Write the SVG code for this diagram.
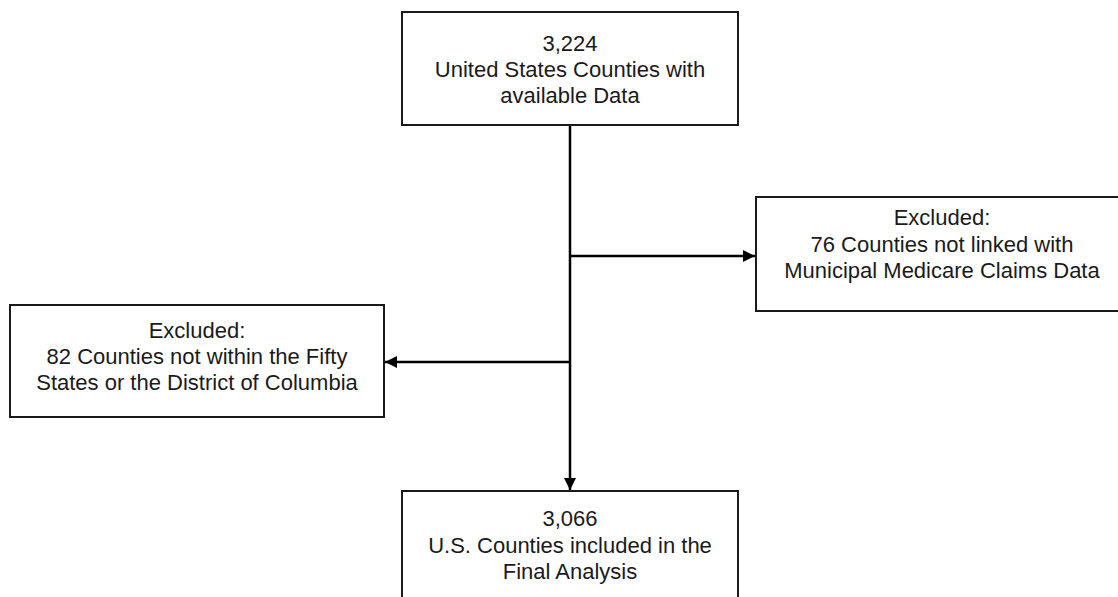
<svg xmlns="http://www.w3.org/2000/svg" width="1118" height="597" viewBox="0 0 1118 597">
<style>
.box{fill:#fff;stroke:#1a1a1a;stroke-width:2}
.t{font-family:"Liberation Sans",Arial,sans-serif;font-size:22px;fill:#1a1a1a;text-anchor:middle}
.c{stroke:#000;stroke-width:2.5;fill:none}
</style>
<defs>
<marker id="ah" markerWidth="12" markerHeight="12" refX="12" refY="6" orient="auto" markerUnits="userSpaceOnUse">
<path d="M0,0 L12,6 L0,12 Z" fill="#000"/>
</marker>
</defs>
<rect width="1118" height="597" fill="#fff"/>
<g id="connectors">
<line class="c" x1="570" y1="125" x2="570" y2="490" marker-end="url(#ah)"/>
<line class="c" x1="570" y1="256" x2="755" y2="256" marker-end="url(#ah)"/>
<line class="c" x1="570" y1="362" x2="385" y2="362" marker-end="url(#ah)"/>
</g>
<g id="top">
<rect class="box" x="402" y="12" width="336" height="113"/>
<text class="t" x="570" y="51">3,224</text>
<text class="t" x="570" y="77">United States Counties with</text>
<text class="t" x="570" y="103">available Data</text>
</g>
<g id="right">
<rect class="box" x="756" y="197" width="374" height="114"/>
<text class="t" x="942" y="225">Excluded:</text>
<text class="t" x="942" y="252">76 Counties not linked with</text>
<text class="t" x="942" y="278">Municipal Medicare Claims Data</text>
</g>
<g id="left">
<rect class="box" x="10" y="305" width="374" height="112"/>
<text class="t" x="197" y="338">Excluded:</text>
<text class="t" x="197" y="364">82 Counties not within the Fifty</text>
<text class="t" x="197" y="390">States or the District of Columbia</text>
</g>
<g id="bottom">
<rect class="box" x="402" y="491" width="336" height="120"/>
<text class="t" x="570" y="526">3,066</text>
<text class="t" x="570" y="553">U.S. Counties included in the</text>
<text class="t" x="570" y="579">Final Analysis</text>
</g>
</svg>
